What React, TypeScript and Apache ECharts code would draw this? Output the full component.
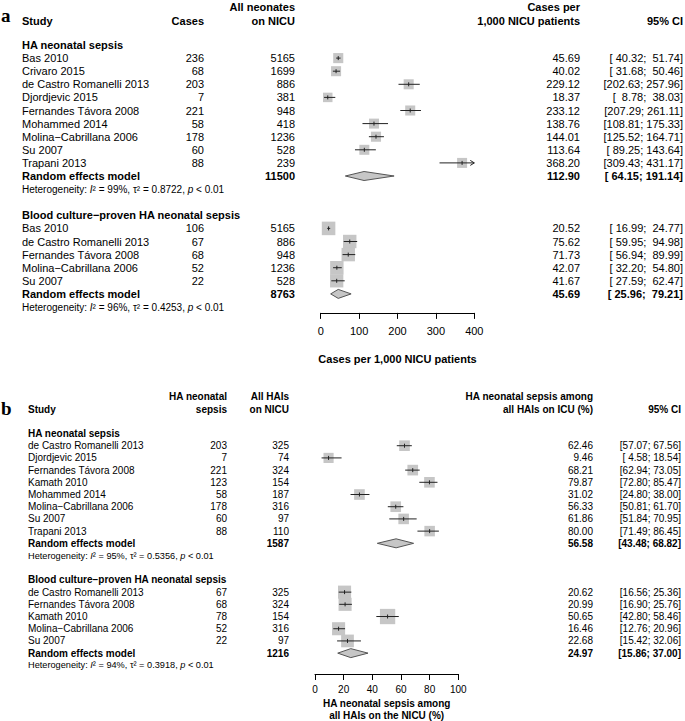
import React, { useEffect, useRef } from "react";
import * as echarts from "echarts";

// ---------------- Panel a: cases per 1,000 NICU patients ----------------
const groupNames = ["HA neonatal sepsis", "Blood culture−proven HA neonatal sepsis"];

const studiesA1 = ["Bas 2010", "Crivaro 2015", "de Castro Romanelli 2013", "Djordjevic 2015", "Fernandes Távora 2008", "Mohammed 2014", "Molina−Cabrillana 2006", "Su 2007", "Trapani 2013"];
const casesA1 = [236, 68, 203, 7, 221, 58, 178, 60, 88];
const totalA1 = [5165, 1699, 886, 381, 948, 418, 1236, 528, 239];
const estA1 = [45.69, 40.02, 229.12, 18.37, 233.12, 138.76, 144.01, 113.64, 368.2];
const lowerA1 = [40.32, 31.68, 202.63, 8.78, 207.29, 108.81, 125.52, 89.25, 309.43];
const upperA1 = [51.74, 50.46, 257.96, 38.03, 261.11, 175.33, 164.71, 143.64, 431.17];
const weightA1 = [11.3, 11.2, 11.2, 10.0, 11.2, 11.1, 11.3, 11.1, 11.1];

const studiesA2 = ["Bas 2010", "de Castro Romanelli 2013", "Fernandes Távora 2008", "Molina−Cabrillana 2006", "Su 2007"];
const casesA2 = [106, 67, 68, 52, 22];
const totalA2 = [5165, 886, 948, 1236, 528];
const estA2 = [20.52, 75.62, 71.73, 42.07, 41.67];
const lowerA2 = [16.99, 59.95, 56.94, 32.2, 27.59];
const upperA2 = [24.77, 94.98, 89.99, 54.8, 62.47];
const weightA2 = [20.4, 20.0, 20.0, 20.0, 19.6];

const pooledTotalA = [11500, 8763];
const pooledEstA = [112.9, 45.69];
const pooledLowerA = [64.15, 25.96];
const pooledUpperA = [191.14, 79.21];
const i2A = [99, 96];
const tau2A = ["0.8722", "0.4253"];
const ticksA = [0, 100, 200, 300, 400];

// ---------------- Panel b: HA neonatal sepsis among all HAIs (%) ----------------
const studiesB1 = ["de Castro Romanelli 2013", "Djordjevic 2015", "Fernandes Távora 2008", "Kamath 2010", "Mohammed 2014", "Molina−Cabrillana 2006", "Su 2007", "Trapani 2013"];
const casesB1 = [203, 7, 221, 123, 58, 178, 60, 88];
const totalB1 = [325, 74, 324, 154, 187, 316, 97, 110];
const estB1 = [62.46, 9.46, 68.21, 79.87, 31.02, 56.33, 61.86, 80.0];
const lowerB1 = [57.07, 4.58, 62.94, 72.8, 24.8, 50.81, 51.84, 71.49];
const upperB1 = [67.56, 18.54, 73.05, 85.47, 38.0, 61.7, 70.95, 86.45];
const weightB1 = [12.6, 11.4, 12.6, 12.5, 12.6, 12.6, 12.4, 12.3];

const studiesB2 = ["de Castro Romanelli 2013", "Fernandes Távora 2008", "Kamath 2010", "Molina−Cabrillana 2006", "Su 2007"];
const casesB2 = [67, 68, 78, 52, 22];
const totalB2 = [325, 324, 154, 316, 97];
const estB2 = [20.62, 20.99, 50.65, 16.46, 22.68];
const lowerB2 = [16.56, 16.9, 42.8, 12.76, 15.42];
const upperB2 = [25.36, 25.76, 58.46, 20.96, 32.06];
const weightB2 = [19.0, 19.0, 26.0, 19.0, 18.0];

const pooledTotalB = [1587, 1216];
const pooledEstB = [56.58, 24.97];
const pooledLowerB = [43.48, 15.86];
const pooledUpperB = [68.82, 37.0];
const i2B = [95, 94];
const tau2B = ["0.5356", "0.3918"];
const ticksB = [0, 20, 40, 60, 80, 100];

// ---------------- helpers ----------------
const FONT = "'Liberation Sans', Arial, Helvetica, sans-serif";
const SERIF = "'Liberation Serif', 'Times New Roman', serif";

type Cell = { text: string; x: number; align: "left" | "right"; bold?: boolean; size?: number; het?: boolean; serif?: boolean };
type Row = { row: number; cells: Cell[] };

type Group = {
  name: string; studies: string[]; n1: number[]; n2: number[]; est: number[]; lo: number[]; hi: number[]; w: number[];
  pTotal: number; pEst: number; pLo: number; pHi: number; i2: number; tau2: string;
};

type Cols = { study: number; n1: number; n2: number; est: number; ci: number };

function ci(lo: number, hi: number, width: number) {
  return "[" + lo.toFixed(2).padStart(width, " ") + "; " + hi.toFixed(2).padStart(width, " ") + "]";
}

function buildPanel(groups: Group[], cols: Cols, fs: number, hetFs: number, ciWidth: number) {
  const rows: Row[] = [];
  const forest: number[][] = [];
  const diamonds: number[][] = [];
  let r = 0;
  groups.forEach((g) => {
    rows.push({ row: r, cells: [{ text: g.name, x: cols.study, align: "left", bold: true, size: fs }] });
    r++;
    g.studies.forEach((s, i) => {
      rows.push({
        row: r,
        cells: [
          { text: s, x: cols.study, align: "left", size: fs },
          { text: String(g.n1[i]), x: cols.n1, align: "right", size: fs },
          { text: String(g.n2[i]), x: cols.n2, align: "right", size: fs },
          { text: g.est[i].toFixed(2), x: cols.est, align: "right", size: fs },
          { text: ci(g.lo[i], g.hi[i], ciWidth), x: cols.ci, align: "right", size: fs },
        ],
      });
      forest.push([g.est[i], r, g.lo[i], g.hi[i], g.w[i]]);
      r++;
    });
    rows.push({
      row: r,
      cells: [
        { text: "Random effects model", x: cols.study, align: "left", bold: true, size: fs },
        { text: String(g.pTotal), x: cols.n2, align: "right", bold: true, size: fs },
        { text: g.pEst.toFixed(2), x: cols.est, align: "right", bold: true, size: fs },
        { text: ci(g.pLo, g.pHi, ciWidth), x: cols.ci, align: "right", bold: true, size: fs },
      ],
    });
    diamonds.push([g.pEst, r, g.pLo, g.pHi]);
    r++;
    rows.push({
      row: r,
      cells: [{ text: `{n|Heterogeneity: }{i|I}{n|² = ${g.i2}%, τ² = ${g.tau2}, }{i|p}{n| < 0.01}`, x: cols.study, align: "left", het: true, size: hetFs }],
    });
    r++;
    r++; // blank line between subgroups
  });
  return { rows, forest, diamonds };
}

function tableSeries(rows: Row[], axisIdx: number) {
  return {
    type: "custom",
    xAxisIndex: axisIdx,
    yAxisIndex: axisIdx,
    clip: false,
    silent: true,
    data: rows.map((rw) => [0, rw.row]),
    renderItem: (params: any, api: any) => {
      const rw = rows[params.dataIndex];
      const y = api.coord([0, rw.row])[1];
      return {
        type: "group",
        children: rw.cells.map((c) => {
          const style: any = {
            text: c.text,
            x: c.x,
            y,
            align: c.align,
            verticalAlign: "middle",
            fill: "#000",
            fontSize: c.size,
            fontFamily: c.serif ? SERIF : FONT,
            fontWeight: c.bold ? "bold" : "normal",
          };
          if (c.het) {
            style.rich = {
              n: { fontSize: c.size, fontFamily: FONT, fill: "#000" },
              i: { fontSize: c.size, fontFamily: FONT, fontStyle: "italic", fill: "#000" },
            };
          }
          return { type: "text", style };
        }),
      };
    },
  };
}

const SQ_K = 3.0;

function forestSeries(data: number[][], axisIdx: number, xMaxVal: number) {
  return {
    type: "custom",
    xAxisIndex: axisIdx,
    yAxisIndex: axisIdx,
    clip: false,
    silent: true,
    data,
    renderItem: (params: any, api: any) => {
      const est = api.value(0), row = api.value(1), lo = api.value(2), hi = api.value(3), w = api.value(4);
      const [cx, cy] = api.coord([est, row]);
      const xMax = api.coord([xMaxVal, row])[0];
      const x1 = api.coord([lo, row])[0];
      let x2 = api.coord([hi, row])[0];
      const arrow = x2 > xMax;
      if (arrow) x2 = xMax;
      const s = SQ_K * Math.sqrt(w);
      const children: any[] = [
        { type: "rect", shape: { x: cx - s / 2, y: cy - s / 2, width: s, height: s }, style: { fill: "#c6c6c6" } },
        { type: "line", shape: { x1, y1: cy, x2, y2: cy }, style: { stroke: "#222", lineWidth: 1 } },
        { type: "line", shape: { x1: cx, y1: cy - 2, x2: cx, y2: cy + 2 }, style: { stroke: "#222", lineWidth: 1 } },
      ];
      if (arrow) {
        children.push({
          type: "polyline",
          shape: { points: [[x2 - 4, cy - 2.5], [x2, cy], [x2 - 4, cy + 2.5]] },
          style: { stroke: "#222", lineWidth: 1, fill: null },
        });
      }
      return { type: "group", children };
    },
  };
}

function diamondSeries(data: number[][], axisIdx: number) {
  return {
    type: "custom",
    xAxisIndex: axisIdx,
    yAxisIndex: axisIdx,
    clip: false,
    silent: true,
    data,
    renderItem: (params: any, api: any) => {
      const est = api.value(0), row = api.value(1), lo = api.value(2), hi = api.value(3);
      const [cx, cy] = api.coord([est, row]);
      const xl = api.coord([lo, row])[0];
      const xr = api.coord([hi, row])[0];
      return {
        type: "polygon",
        shape: { points: [[xl, cy], [cx, cy - 4.5], [xr, cy], [cx, cy + 4.5]] },
        style: { fill: "#c6c6c6", stroke: "#555", lineWidth: 1 },
      };
    },
  };
}

function xAxisCfg(idx: number, ticks: number[], name: string, fs: number, margin: number, nameGap: number) {
  return {
    type: "value",
    gridIndex: idx,
    min: ticks[0],
    max: ticks[ticks.length - 1],
    interval: ticks[1] - ticks[0],
    name,
    nameLocation: "middle",
    nameGap,
    nameTextStyle: { fontFamily: FONT, fontSize: fs, fontWeight: "bold", color: "#000", verticalAlign: "top", lineHeight: fs + 2 },
    axisLine: { show: true, onZero: false, lineStyle: { color: "#000", width: 1 } },
    axisTick: { show: true, inside: false, length: 6, lineStyle: { color: "#000", width: 1 } },
    axisLabel: { show: true, color: "#000", fontFamily: FONT, fontSize: fs, margin },
    splitLine: { show: false },
  };
}

function buildOption() {
  const groupsA: Group[] = [
    { name: groupNames[0], studies: studiesA1, n1: casesA1, n2: totalA1, est: estA1, lo: lowerA1, hi: upperA1, w: weightA1, pTotal: pooledTotalA[0], pEst: pooledEstA[0], pLo: pooledLowerA[0], pHi: pooledUpperA[0], i2: i2A[0], tau2: tau2A[0] },
    { name: groupNames[1], studies: studiesA2, n1: casesA2, n2: totalA2, est: estA2, lo: lowerA2, hi: upperA2, w: weightA2, pTotal: pooledTotalA[1], pEst: pooledEstA[1], pLo: pooledLowerA[1], pHi: pooledUpperA[1], i2: i2A[1], tau2: tau2A[1] },
  ];
  const groupsB: Group[] = [
    { name: groupNames[0], studies: studiesB1, n1: casesB1, n2: totalB1, est: estB1, lo: lowerB1, hi: upperB1, w: weightB1, pTotal: pooledTotalB[0], pEst: pooledEstB[0], pLo: pooledLowerB[0], pHi: pooledUpperB[0], i2: i2B[0], tau2: tau2B[0] },
    { name: groupNames[1], studies: studiesB2, n1: casesB2, n2: totalB2, est: estB2, lo: lowerB2, hi: upperB2, w: weightB2, pTotal: pooledTotalB[1], pEst: pooledEstB[1], pLo: pooledLowerB[1], pHi: pooledUpperB[1], i2: i2B[1], tau2: tau2B[1] },
  ];

  const colsA: Cols = { study: 22, n1: 204, n2: 295, est: 580, ci: 683 };
  const colsB: Cols = { study: 28, n1: 227, n2: 289, est: 593, ci: 681 };

  const A = buildPanel(groupsA, colsA, 11, 10, 6);
  const B = buildPanel(groupsB, colsB, 10, 9.2, 5);

  // column headers
  A.rows.push({ row: -2.24, cells: [{ text: "a", x: 1, align: "left", bold: true, serif: true, size: 19 }] });
  A.rows.push({ row: -2.9, cells: [
    { text: "All neonates", x: colsA.n2, align: "right", bold: true, size: 11 },
    { text: "Cases per", x: colsA.est, align: "right", bold: true, size: 11 },
  ] });
  A.rows.push({ row: -1.83, cells: [
    { text: "Study", x: colsA.study, align: "left", bold: true, size: 11 },
    { text: "Cases", x: colsA.n1, align: "right", bold: true, size: 11 },
    { text: "on NICU", x: colsA.n2, align: "right", bold: true, size: 11 },
    { text: "1,000 NICU patients", x: colsA.est, align: "right", bold: true, size: 11 },
    { text: "95% CI", x: colsA.ci, align: "right", bold: true, size: 11 },
  ] });

  B.rows.push({ row: -2.02, cells: [{ text: "b", x: 1, align: "left", bold: true, serif: true, size: 19 }] });
  B.rows.push({ row: -3.07, cells: [
    { text: "HA neonatal", x: colsB.n1, align: "right", bold: true, size: 10 },
    { text: "All HAIs", x: colsB.n2, align: "right", bold: true, size: 10 },
    { text: "HA neonatal sepsis among", x: colsB.est, align: "right", bold: true, size: 10 },
  ] });
  B.rows.push({ row: -2.0, cells: [
    { text: "Study", x: colsB.study, align: "left", bold: true, size: 10 },
    { text: "sepsis", x: colsB.n1, align: "right", bold: true, size: 10 },
    { text: "on NICU", x: colsB.n2, align: "right", bold: true, size: 10 },
    { text: "all HAIs on ICU (%)", x: colsB.est, align: "right", bold: true, size: 10 },
    { text: "95% CI", x: colsB.ci, align: "right", bold: true, size: 10 },
  ] });

  return {
    animation: false,
    backgroundColor: "#fff",
    grid: [
      { left: 320.7, top: 5.7, width: 153.6, height: 307.2, containLabel: false, outerBoundsMode: "none" },
      { left: 315, top: 396.9, width: 143.3, height: 277.1, containLabel: false, outerBoundsMode: "none" },
    ],
    xAxis: [
      xAxisCfg(0, ticksA, "Cases per 1,000 NICU patients", 11, 13, 40),
      xAxisCfg(1, ticksB, "HA neonatal sepsis among\nall HAIs on the NICU (%)", 10, 10, 23),
    ],
    yAxis: [
      { type: "value", gridIndex: 0, inverse: true, min: -3, max: 20.45, show: false },
      { type: "value", gridIndex: 1, inverse: true, min: -3, max: 19.71, show: false },
    ],
    series: [
      forestSeries(A.forest, 0, ticksA[ticksA.length - 1]),
      diamondSeries(A.diamonds, 0),
      tableSeries(A.rows, 0),
      forestSeries(B.forest, 1, ticksB[ticksB.length - 1]),
      diamondSeries(B.diamonds, 1),
      tableSeries(B.rows, 1),
    ],
  };
}

export default function App() {
  const ref = useRef<HTMLDivElement>(null);
  useEffect(() => {
    const chart = echarts.init(ref.current as HTMLDivElement, null, { renderer: "svg" });
    chart.setOption(buildOption() as any);
    return () => chart.dispose();
  }, []);
  return (
    <div
      ref={ref}
      style={{ position: "fixed", left: 0, top: 0, width: 685, height: 721, background: "#fff" }}
    />
  );
}
